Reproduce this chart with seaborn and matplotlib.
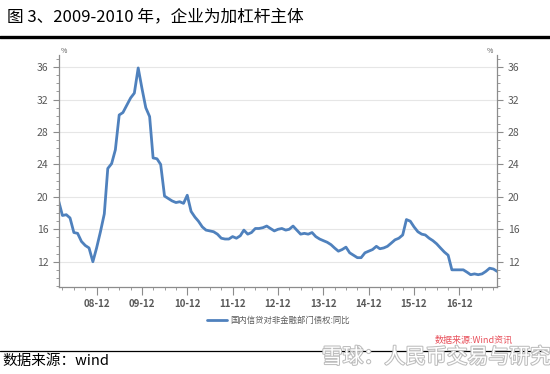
import pandas as pd
import seaborn as sns
import matplotlib.pyplot as plt
import matplotlib.dates as mdates
import matplotlib.patheffects as pe
from matplotlib.lines import Line2D

# monthly yoy growth, Feb 2008 - Oct 2017
start_month = "2008-02"
values = [
    19.4, 17.7, 17.8, 17.4, 15.6, 15.5, 14.5, 14.0, 13.7, 12.0, 13.7,
    15.7, 17.9, 23.5, 24.1, 25.8, 30.1, 30.4, 31.3, 32.2, 32.8, 35.9, 33.4,
    31.0, 29.9, 24.8, 24.7, 24.0, 20.1, 19.8, 19.5, 19.3, 19.4, 19.2, 20.2,
    18.2, 17.5, 17.0, 16.3, 15.9, 15.8, 15.7, 15.4, 14.9, 14.8, 14.8, 15.1,
    14.9, 15.2, 15.9, 15.4, 15.6, 16.1, 16.1, 16.2, 16.4, 16.1, 15.8, 16.0,
    16.1, 15.9, 16.0, 16.4, 15.9, 15.4, 15.5, 15.4, 15.6, 15.1, 14.8, 14.6,
    14.4, 14.1, 13.7, 13.3, 13.5, 13.8, 13.1, 12.8, 12.5, 12.5, 13.1, 13.3,
    13.5, 13.9, 13.6, 13.7, 13.9, 14.3, 14.7, 14.9, 15.3, 17.2, 17.0, 16.3,
    15.7, 15.4, 15.3, 14.9, 14.6, 14.2, 13.7, 13.2, 12.8, 11.0, 11.0, 11.0,
    11.0, 10.7, 10.4, 10.5, 10.4, 10.5, 10.8, 11.2, 11.1, 10.8,
]
series_name = "国内信贷对非金融部门债权:同比"
y_ticks = [12, 16, 20, 24, 28, 32, 36]
x_tick_years = list(range(2008, 2017))

df = pd.DataFrame({
    "date": pd.date_range(start_month, periods=len(values), freq="MS"),
    "value": values,
})

sns.set_style("white")
plt.rcParams["font.family"] = ["Noto Sans CJK SC", "DejaVu Sans"]

fig = plt.figure(figsize=(5.5, 3.74), dpi=100)
ax = fig.add_axes([0.107, 0.233, 0.797, 0.62])

sns.lineplot(data=df, x="date", y="value", ax=ax, color="#4f81bd",
             linewidth=2.0, label=series_name, legend=False)

ax.set_xlim(df["date"].iloc[0], df["date"].iloc[-1])
ax.set_ylim(8.9, 37.5)
ax.set_xlabel("")
ax.set_ylabel("")

ax.set_yticks(y_ticks)
ax.set_yticks(range(9, 38), minor=True)
ax.yaxis.grid(True, color="#e6e6e6", linewidth=0.8)
ax.set_axisbelow(True)

ticks = [pd.Timestamp(f"{y}-12-01") for y in x_tick_years]
ax.set_xticks(ticks)
ax.set_xticklabels([f"{y % 100:02d}-12" for y in x_tick_years])
ax.xaxis.set_minor_locator(mdates.MonthLocator(bymonth=[3, 6, 9, 12]))

for s in ["left", "right", "bottom"]:
    ax.spines[s].set_color("#8c8c8c")
    ax.spines[s].set_linewidth(0.9)
ax.spines["top"].set_visible(False)

ax.tick_params(axis="y", which="both", left=True, right=True,
               labelleft=True, labelright=True, color="#8c8c8c",
               labelsize=7.5, labelcolor="#595959", direction="out")
ax.tick_params(axis="y", which="major", length=4, width=0.8)
ax.tick_params(axis="y", which="minor", length=2.5, width=0.6)
ax.tick_params(axis="x", which="major", bottom=True, length=6, width=0.8,
               color="#8c8c8c", labelsize=7, labelcolor="#595959", pad=3)
ax.tick_params(axis="x", which="minor", bottom=True, length=2.5, width=0.6,
               color="#8c8c8c")
for lbl in ax.get_xticklabels():
    lbl.set_fontweight("bold")

ax.text(0.005, 1.0, "%", transform=ax.transAxes, fontsize=5,
        color="#595959", va="bottom", ha="left")
ax.text(0.99, 1.0, "%", transform=ax.transAxes, fontsize=5,
        color="#595959", va="bottom", ha="right")

# legend
leg = ax.legend(loc="upper center", bbox_to_anchor=(0.5, -0.095), frameon=False,
                fontsize=6, handlelength=2.5, handletextpad=0.3)
for t in leg.get_texts():
    t.set_color("#595959")

fig.text(0.79, 0.09, "数据来源:Wind资讯", fontsize=6.5, color="#e8505b",
         style="italic", ha="left", va="center")

# page decorations
fig.text(0.012, 0.955, "图 3、2009-2010 年，企业为加杠杆主体", fontsize=12,
         ha="left", va="center", color="black")
fig.add_artist(Line2D([0, 1], [0.902, 0.902], color="black", linewidth=2.4))
fig.add_artist(Line2D([0, 1], [0.061, 0.061], color="black", linewidth=0.9))
fig.text(0.005, 0.035, "数据来源：wind", fontsize=10.5, ha="left",
         va="center", color="black")
wm = fig.text(0.585, 0.045, "雪球：人民币交易与研究", fontsize=15,
              ha="left", va="center", color="white")
wm.set_path_effects([pe.withStroke(linewidth=1.5, foreground="#bdbdbd")])

fig.savefig("out.png", dpi=100)
